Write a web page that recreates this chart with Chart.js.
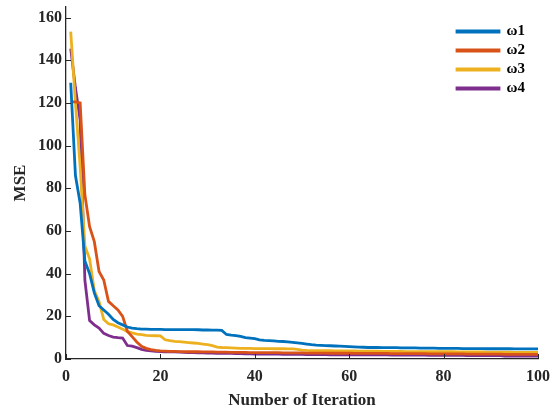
<!DOCTYPE html>
<html>
<head>
<meta charset="utf-8">
<script src="https://cdn.jsdelivr.net/npm/chart.js@4.4.1/dist/chart.umd.min.js"></script>
<style>
  body { margin: 0; background: #fff; }
  canvas { display: block; }
</style>
</head>
<body>
<canvas id="mseChart" width="550" height="409"></canvas>
<script>
// iteration numbers 1..100 (x categories)
const iterations = Array.from({ length: 100 }, (_, i) => i + 1);
const seriesNames = ["\u03c91", "\u03c92", "\u03c93", "\u03c94"];
const seriesColors = ["#0072BD", "#D95319", "#EDB120", "#7E2F8E"];
const xTicks = [0, 20, 40, 60, 80, 100];
const yTicks = [0, 20, 40, 60, 80, 100, 120, 140, 160];

// MSE per iteration
const w1 = [
  129.5, 86, 73, 46, 40, 31, 25, 23, 21, 18.5,
  17, 16, 15, 14.5, 14.2, 14.0, 14.0, 13.9, 13.9, 13.9,
  13.8, 13.8, 13.8, 13.8, 13.8, 13.8, 13.8, 13.7, 13.6, 13.6,
  13.5, 13.5, 13.4, 11.5, 11.2, 11.0, 10.6, 10.0, 9.8, 9.5,
  9.0, 8.7, 8.6, 8.5, 8.3, 8.2, 8.0, 7.8, 7.6, 7.3,
  7.0, 6.7, 6.5, 6.4, 6.3, 6.2, 6.1, 6.0, 5.9, 5.8,
  5.7, 5.6, 5.5, 5.4, 5.4, 5.4, 5.3, 5.3, 5.3, 5.3,
  5.2, 5.2, 5.2, 5.2, 5.1, 5.1, 5.1, 5.1, 5.0, 5.0,
  5.0, 5.0, 5.0, 4.9, 4.9, 4.9, 4.9, 4.9, 4.8, 4.8,
  4.8, 4.8, 4.8, 4.8, 4.7, 4.7, 4.7, 4.7, 4.7, 4.7
];
const w2 = [
  120.5, 120.5, 120, 77, 62, 55, 41, 37, 27, 25,
  23, 20, 13, 10.5, 8, 6, 5, 4.4, 4.0, 3.8,
  3.7, 3.6, 3.6, 3.5, 3.5, 3.4, 3.4, 3.4, 3.3, 3.3,
  3.3, 3.2, 3.2, 3.2, 3.1, 3.1, 3.1, 3.1, 3.0, 3.0,
  3.0, 3.0, 3.0, 3.0, 3.0, 2.9, 2.9, 2.9, 2.9, 2.9,
  2.8, 2.8, 2.8, 2.8, 2.8, 2.7, 2.7, 2.7, 2.7, 2.7,
  2.6, 2.6, 2.6, 2.6, 2.6, 2.6, 2.6, 2.6, 2.5, 2.5,
  2.5, 2.5, 2.5, 2.5, 2.5, 2.5, 2.4, 2.4, 2.4, 2.4,
  2.4, 2.4, 2.4, 2.4, 2.3, 2.3, 2.3, 2.3, 2.3, 2.3,
  2.3, 2.3, 2.2, 2.2, 2.2, 2.2, 2.2, 2.2, 2.2, 2.2
];
const w3 = [
  153.5, 120, 90, 53, 47, 32, 27, 18.5, 16.5, 16,
  15, 14, 12.8, 12.2, 11.7, 11.4, 11.1, 11.0, 10.9, 10.8,
  9.0, 8.6, 8.3, 8.1, 7.9, 7.7, 7.5, 7.3, 7.0, 6.7,
  6.3, 5.6, 5.4, 5.3, 5.2, 5.1, 5.0, 5.0, 5.0, 4.9,
  4.9, 4.9, 4.9, 4.8, 4.8, 4.8, 4.7, 4.7, 4.5, 4.2,
  4.0, 3.9, 3.9, 3.9, 3.9, 3.9, 3.8, 3.8, 3.8, 3.8,
  3.8, 3.7, 3.7, 3.7, 3.7, 3.7, 3.6, 3.6, 3.6, 3.6,
  3.6, 3.5, 3.5, 3.5, 3.5, 3.5, 3.4, 3.4, 3.4, 3.4,
  3.4, 3.4, 3.3, 3.3, 3.3, 3.3, 3.3, 3.3, 3.2, 3.2,
  3.2, 3.2, 3.2, 3.2, 3.1, 3.1, 3.1, 3.1, 3.1, 3.1
];
const w4 = [
  145.5, 127, 112, 37, 18, 16, 14.5, 12, 11, 10.3,
  10, 9.8, 6.3, 6.0, 5.3, 4.5, 4.0, 3.8, 3.6, 3.5,
  3.4, 3.3, 3.3, 3.2, 3.1, 3.0, 3.0, 2.9, 2.9, 2.8,
  2.8, 2.7, 2.7, 2.6, 2.6, 2.5, 2.5, 2.4, 2.4, 2.3,
  2.3, 2.3, 2.3, 2.3, 2.3, 2.2, 2.2, 2.2, 2.2, 2.2,
  2.1, 2.1, 2.1, 2.1, 2.1, 2.0, 2.0, 2.0, 2.0, 2.0,
  1.9, 1.9, 1.9, 1.9, 1.9, 1.9, 1.9, 1.9, 1.8, 1.8,
  1.8, 1.8, 1.8, 1.8, 1.8, 1.8, 1.7, 1.7, 1.7, 1.7,
  1.7, 1.7, 1.7, 1.7, 1.6, 1.6, 1.6, 1.6, 1.6, 1.6,
  1.6, 1.6, 1.4, 1.4, 1.4, 1.4, 1.4, 1.4, 1.4, 1.4
];
const allSeries = [w1, w2, w3, w4];

const axisColor = "#262626";
const serif = "'Liberation Serif', 'Times New Roman', serif";

// MATLAB style ticks that point into the plot
const inwardTicks = {
  id: "inwardTicks",
  afterDraw(chart) {
    const { ctx, chartArea, scales } = chart;
    ctx.save();
    ctx.strokeStyle = axisColor;
    ctx.lineWidth = 1;
    ctx.beginPath();
    scales.x.ticks.forEach(t => {
      const px = Math.round(scales.x.getPixelForValue(t.value)) + 0.5;
      ctx.moveTo(px, chartArea.bottom);
      ctx.lineTo(px, chartArea.bottom - 5);
    });
    scales.y.ticks.forEach(t => {
      const py = Math.round(scales.y.getPixelForValue(t.value)) + 0.5;
      ctx.moveTo(chartArea.left, py);
      ctx.lineTo(chartArea.left + 5, py);
    });
    ctx.stroke();
    ctx.restore();
  }
};

// move the legend to the upper right corner inside the axes
const legendSpot = {
  id: "legendSpot",
  afterLayout(chart) {
    chart.legend.left = 453;
    chart.legend.top = 20;
  }
};

new Chart(document.getElementById("mseChart"), {
  type: "line",
  data: {
    labels: iterations,
    datasets: allSeries.map((vals, i) => ({
      label: seriesNames[i],
      data: vals,
      borderColor: seriesColors[i],
      backgroundColor: seriesColors[i],
      borderWidth: 2.8,
      pointRadius: 0,
      tension: 0
    }))
  },
  options: {
    responsive: false,
    animation: false,
    layout: { padding: 0 },
    plugins: {
      tooltip: { enabled: false },
      legend: {
        position: "chartArea",
        align: "start",
        labels: {
          boxWidth: 42,
          boxHeight: 1,
          padding: 4,
          color: "#000",
          font: { family: serif, size: 15, weight: "bold" }
        }
      }
    },
    scales: {
      x: {
        type: "linear",
        min: 0,
        max: 100,
        afterFit: s => { s.height = 50; s.paddingRight = 12; s.paddingLeft = 0; },
        afterBuildTicks: s => { s.ticks = xTicks.map(v => ({ value: v })); },
        grid: { display: false, drawTicks: false },
        border: { display: true, color: axisColor, width: 1.3 },
        ticks: {
          padding: 8,
          color: axisColor,
          maxRotation: 0,
          font: { family: serif, size: 16, weight: "bold" }
        },
        title: {
          display: true,
          text: "Number of Iteration",
          color: axisColor,
          padding: { top: 0, bottom: 0 },
          font: { family: serif, size: 17, weight: "bold", lineHeight: 1 }
        }
      },
      y: {
        min: 0,
        max: 165,
        afterFit: s => { s.width = 66; s.paddingTop = 7; s.paddingBottom = 0; },
        afterBuildTicks: s => { s.ticks = yTicks.map(v => ({ value: v })); },
        grid: { display: false, drawTicks: false },
        border: { display: true, color: axisColor, width: 1.3 },
        ticks: {
          padding: 4,
          color: axisColor,
          font: { family: serif, size: 16, weight: "bold" }
        },
        title: {
          display: true,
          text: "MSE",
          color: axisColor,
          padding: { top: 10, bottom: 0 },
          font: { family: serif, size: 17, weight: "bold" }
        }
      }
    }
  },
  plugins: [inwardTicks, legendSpot]
});
</script>
</body>
</html>
